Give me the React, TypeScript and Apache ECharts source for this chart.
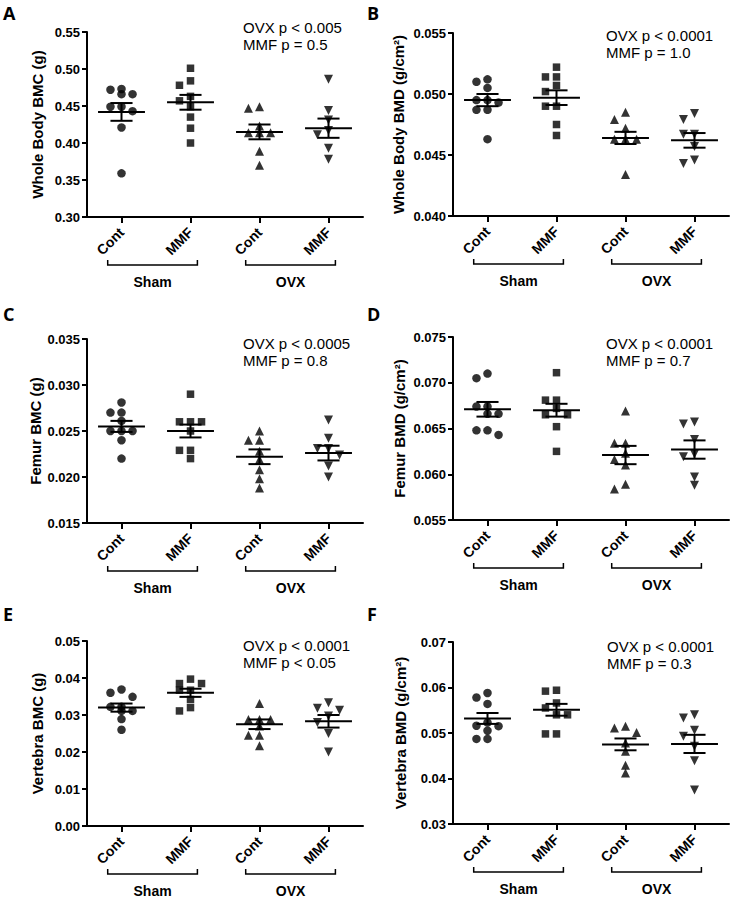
import React, { useEffect, useRef } from "react";
import * as echarts from "echarts";

const FONT = '"Liberation Sans", Arial, sans-serif';

const groupLabels = ["Cont", "MMF", "Cont", "MMF"];
const conditionLabels = ["Sham", "OVX"];

// ---- Panel A : Whole Body BMC (g)
const aShamCont = [0.472, 0.466, 0.466, 0.473, 0.443, 0.449, 0.449, 0.421, 0.359];
const aShamMMF = [0.501, 0.484, 0.478, 0.463, 0.457, 0.449, 0.435, 0.42, 0.4];
const aOvxCont = [0.447, 0.449, 0.423, 0.414, 0.414, 0.414, 0.389, 0.37];
const aOvxMMF = [0.486, 0.444, 0.431, 0.417, 0.411, 0.393, 0.378];
const aMean = [0.442, 0.455, 0.415, 0.42];
const aSem = [0.012, 0.01, 0.01, 0.013];

// ---- Panel B : Whole Body BMD (g/cm2)
const bShamCont = [0.0512, 0.051, 0.0505, 0.0495, 0.0495, 0.0493, 0.0487, 0.0487, 0.0463];
const bShamMMF = [0.0522, 0.0514, 0.0514, 0.0507, 0.0502, 0.049, 0.049, 0.0475, 0.0466];
const bOvxCont = [0.0485, 0.0479, 0.0472, 0.0463, 0.0463, 0.0463, 0.0434];
const bOvxMMF = [0.0484, 0.0479, 0.0467, 0.0467, 0.0457, 0.0446, 0.0443];
const bMean = [0.0495, 0.0497, 0.0464, 0.0462];
const bSem = [0.0005, 0.0006, 0.0005, 0.0006];

// ---- Panel C : Femur BMC (g)
const cShamCont = [0.0281, 0.027, 0.027, 0.0261, 0.025, 0.025, 0.025, 0.024, 0.022];
const cShamMMF = [0.029, 0.026, 0.026, 0.026, 0.025, 0.0229, 0.0229, 0.022];
const cOvxCont = [0.025, 0.024, 0.024, 0.0228, 0.0219, 0.0208, 0.0198, 0.0188];
const cOvxMMF = [0.0262, 0.0242, 0.0231, 0.0231, 0.0224, 0.0212, 0.02];
const cMean = [0.0255, 0.025, 0.0222, 0.0226];
const cSem = [0.0006, 0.0007, 0.0008, 0.0008];

// ---- Panel D : Femur BMD (g/cm2)
const dShamCont = [0.071, 0.0705, 0.0674, 0.0674, 0.0666, 0.0666, 0.0648, 0.0648, 0.0643];
const dShamMMF = [0.0711, 0.0681, 0.0681, 0.0672, 0.0665, 0.0665, 0.0652, 0.0625];
const dOvxCont = [0.0669, 0.0634, 0.0634, 0.0623, 0.0616, 0.061, 0.0589, 0.0584];
const dOvxMMF = [0.0657, 0.0655, 0.0638, 0.0622, 0.0619, 0.0597, 0.0588];
const dMean = [0.0671, 0.067, 0.0621, 0.0627];
const dSem = [0.0008, 0.0007, 0.001, 0.001];

// ---- Panel E : Vertebra BMC (g)
const eShamCont = [0.0369, 0.036, 0.0349, 0.0322, 0.0322, 0.0311, 0.0311, 0.0289, 0.026];
const eShamMMF = [0.0397, 0.0385, 0.0385, 0.0367, 0.0367, 0.0342, 0.032, 0.0311];
const eOvxCont = [0.0331, 0.0288, 0.0288, 0.0288, 0.027, 0.0245, 0.0245, 0.0217];
const eOvxMMF = [0.0333, 0.0318, 0.0313, 0.0297, 0.028, 0.025, 0.02];
const eMean = [0.032, 0.036, 0.0275, 0.0283];
const eSem = [0.0011, 0.0011, 0.0013, 0.0017];

// ---- Panel F : Vertebra BMD (g/cm2)
const fShamCont = [0.0588, 0.0578, 0.0564, 0.0523, 0.0516, 0.0515, 0.0505, 0.0487, 0.0487];
const fShamMMF = [0.0594, 0.0592, 0.0566, 0.0555, 0.054, 0.054, 0.0498, 0.0498];
const fOvxCont = [0.0515, 0.0511, 0.0501, 0.0478, 0.046, 0.0429, 0.0412];
const fOvxMMF = [0.054, 0.0533, 0.0506, 0.0493, 0.0471, 0.0439, 0.0375];
const fMean = [0.0532, 0.0551, 0.0475, 0.0476];
const fSem = [0.0012, 0.0013, 0.0013, 0.002];

const panels = [
  { letter: "A", yName: "Whole Body BMC (g)", pLines: ["OVX p < 0.005", "MMF p = 0.5"], groups: [aShamCont, aShamMMF, aOvxCont, aOvxMMF], mean: aMean, sem: aSem, yMin: 0.3, yMax: 0.55, yStep: 0.05, dec: 2 },
  { letter: "B", yName: "Whole Body BMD (g/cm²)", pLines: ["OVX p < 0.0001", "MMF p = 1.0"], groups: [bShamCont, bShamMMF, bOvxCont, bOvxMMF], mean: bMean, sem: bSem, yMin: 0.04, yMax: 0.055, yStep: 0.005, dec: 3 },
  { letter: "C", yName: "Femur BMC (g)", pLines: ["OVX p < 0.0005", "MMF p = 0.8"], groups: [cShamCont, cShamMMF, cOvxCont, cOvxMMF], mean: cMean, sem: cSem, yMin: 0.015, yMax: 0.035, yStep: 0.005, dec: 3 },
  { letter: "D", yName: "Femur BMD (g/cm²)", pLines: ["OVX p < 0.0001", "MMF p = 0.7"], groups: [dShamCont, dShamMMF, dOvxCont, dOvxMMF], mean: dMean, sem: dSem, yMin: 0.055, yMax: 0.075, yStep: 0.005, dec: 3 },
  { letter: "E", yName: "Vertebra BMC (g)", pLines: ["OVX p < 0.0001", "MMF p < 0.05"], groups: [eShamCont, eShamMMF, eOvxCont, eOvxMMF], mean: eMean, sem: eSem, yMin: 0, yMax: 0.05, yStep: 0.01, dec: 2 },
  { letter: "F", yName: "Vertebra BMD (g/cm²)", pLines: ["OVX p < 0.0001", "MMF p = 0.3"], groups: [fShamCont, fShamMMF, fOvxCont, fOvxMMF], mean: fMean, sem: fSem, yMin: 0.03, yMax: 0.07, yStep: 0.01, dec: 2 },
];

// layout (pixels)
const GRID_W = 276;
const layout = [
  { left: 87, top: 32, height: 185, nameGap: 42, pX: 243, pY: 27, lx: 3, ly: 4 },
  { left: 453, top: 33, height: 183, nameGap: 47, pX: 606, pY: 35, lx: 367, ly: 4 },
  { left: 87, top: 339, height: 184, nameGap: 44, pX: 243, pY: 343, lx: 3, ly: 305 },
  { left: 453, top: 337, height: 183, nameGap: 46, pX: 606, pY: 343, lx: 367, ly: 305 },
  { left: 87, top: 641, height: 185, nameGap: 42, pX: 243, pY: 645, lx: 3, ly: 605 },
  { left: 453, top: 642, height: 182, nameGap: 45, pX: 607, pY: 646, lx: 367, ly: 605 },
];

const symbols = ["circle", "rect", "triangle", "triangle"];
const symbolRot = [0, 0, 0, 180];
const symbolSizes = [8.5, 7.5, 9, 9];
const STEP = 0.16; // horizontal jitter step in category units

function swarm(vals: number[], pxPerUnit: number, stepPx: number): number[] {
  const order = vals.map((_, i) => i).sort((a, b) => vals[b] - vals[a]);
  const placed: { x: number; y: number }[] = [];
  const offs: number[] = new Array(vals.length).fill(0);
  const minD = 7.5;
  for (const i of order) {
    const y = vals[i] * pxPerUnit;
    let best = 0;
    let bestD = -1;
    for (const o of [0, -1, 1]) {
      const x = o * stepPx;
      let d = Infinity;
      for (const p of placed) d = Math.min(d, Math.hypot(p.x - x, p.y - y));
      if (d >= minD) { best = o; bestD = d; break; }
      if (d > bestD) { bestD = d; best = o; }
    }
    placed.push({ x: best * stepPx, y });
    offs[i] = best;
  }
  return offs;
}

export default function App() {
  const ref = useRef<HTMLDivElement>(null);
  useEffect(() => {
    if (!ref.current) return;
    const chart = echarts.init(ref.current, undefined, { renderer: "svg" });
    const unitPx = GRID_W / 4;
    const grids: any[] = [];
    const xAxes: any[] = [];
    const yAxes: any[] = [];
    const series: any[] = [];
    const graphic: any[] = [];

    panels.forEach((p, i) => {
      const L = layout[i];
      grids.push({ left: L.left, top: L.top, width: GRID_W, height: L.height });
      xAxes.push({
        type: "value", gridIndex: i, min: 0.5, max: 4.5,
        axisLine: { show: true, onZero: false, lineStyle: { color: "#000", width: 2 } },
        axisTick: { show: true, customValues: [1, 2, 3, 4], length: 6, lineStyle: { color: "#000", width: 2 } },
        axisLabel: {
          customValues: [1, 2, 3, 4], rotate: 45, margin: 13,
          formatter: (v: number) => groupLabels[Math.round(v) - 1] || "",
          color: "#000", fontFamily: FONT, fontWeight: "bold", fontSize: 14,
        },
        splitLine: { show: false },
      });
      yAxes.push({
        type: "value", gridIndex: i, min: p.yMin, max: p.yMax, interval: p.yStep,
        name: p.yName, nameLocation: "middle", nameGap: L.nameGap,
        nameTextStyle: { color: "#000", fontFamily: FONT, fontWeight: "bold", fontSize: 15 },
        axisLine: { show: true, onZero: false, lineStyle: { color: "#000", width: 2 } },
        axisTick: { show: true, length: 5, lineStyle: { color: "#000", width: 2 } },
        axisLabel: {
          margin: 7, color: "#000", fontFamily: FONT, fontWeight: "bold", fontSize: 13,
          formatter: (v: number) => v.toFixed(p.dec),
        },
        splitLine: { show: false },
      });
      const pxPerUnit = L.height / (p.yMax - p.yMin);
      p.groups.forEach((vals, k) => {
        const offs = swarm(vals, pxPerUnit, STEP * unitPx);
        series.push({
          type: "scatter", xAxisIndex: i, yAxisIndex: i,
          symbol: symbols[k], symbolRotate: symbolRot[k], symbolSize: symbolSizes[k],
          itemStyle: { color: "#000" },
          data: vals.map((v, j) => [k + 1 + offs[j] * STEP, v]),
          z: 2,
        });
      });
      series.push({
        type: "custom", xAxisIndex: i, yAxisIndex: i,
        dimensions: ["x", "mean", "sem"], encode: { x: 0, y: 1 },
        data: p.mean.map((m, k) => [k + 1, m, p.sem[k]]),
        z: 3,
        renderItem: (_params: any, api: any) => {
          const x = api.value(0);
          const m = api.value(1);
          const s = api.value(2);
          const c = api.coord([x, m]);
          const t = api.coord([x, m + s]);
          const b = api.coord([x, m - s]);
          const half = api.coord([x + 0.34, m])[0] - c[0];
          const cap = api.coord([x + 0.16, m])[0] - c[0];
          const st = { stroke: "#000", lineWidth: 2 };
          return {
            type: "group",
            children: [
              { type: "line", shape: { x1: c[0] - half, y1: c[1], x2: c[0] + half, y2: c[1] }, style: st },
              { type: "line", shape: { x1: t[0], y1: t[1], x2: b[0], y2: b[1] }, style: st },
              { type: "line", shape: { x1: c[0] - cap, y1: t[1], x2: c[0] + cap, y2: t[1] }, style: st },
              { type: "line", shape: { x1: c[0] - cap, y1: b[1], x2: c[0] + cap, y2: b[1] }, style: st },
            ],
          };
        },
      });

      // panel letter
      graphic.push({
        type: "text", left: L.lx, top: L.ly,
        style: { text: p.letter, fill: "#000", font: 'bold 18px "Open Sans", sans-serif' },
      });
      // p-values
      p.pLines.forEach((line, li) => {
        graphic.push({
          type: "text", x: L.pX, y: L.pY + li * 17,
          style: { text: line, fill: "#000", font: `15px ${FONT}`, textAlign: "left", textVerticalAlign: "middle" },
        });
      });
      // brackets and condition labels
      const px = (v: number) => L.left + (v - 0.5) * unitPx;
      const yb = L.top + L.height + 48;
      conditionLabels.forEach((lab, ci) => {
        const x1 = px(ci * 2 + 1 - 0.2);
        const x2 = px(ci * 2 + 2 + 0.1);
        graphic.push({
          type: "polyline",
          shape: { points: [[x1, yb - 5], [x1, yb], [x2, yb], [x2, yb - 5]] },
          style: { stroke: "#000", lineWidth: 1.5, fill: null },
        });
        graphic.push({
          type: "text", x: (x1 + x2) / 2, y: yb + 17,
          style: { text: lab, fill: "#000", font: `bold 14px ${FONT}`, textAlign: "center", textVerticalAlign: "middle" },
        });
      });
    });

    chart.setOption({
      animation: false,
      backgroundColor: "#fff",
      grid: grids,
      xAxis: xAxes,
      yAxis: yAxes,
      series,
      graphic,
    });
    return () => chart.dispose();
  }, []);
  return <div ref={ref} style={{ position: "absolute", left: 0, top: 0, width: 735, height: 900 }} />;
}
